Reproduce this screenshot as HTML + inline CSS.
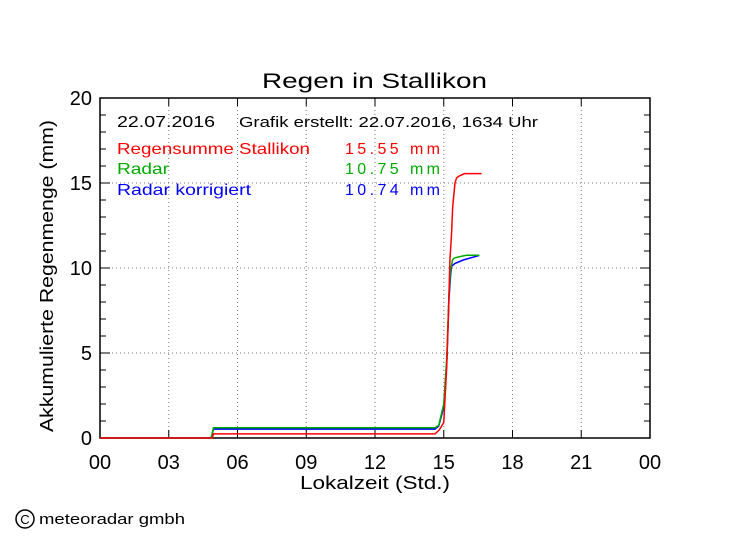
<!DOCTYPE html>
<html><head><meta charset="utf-8"><style>
body{margin:0;background:#fff}
svg text{font-family:"Liberation Sans",sans-serif}
</style></head><body>
<svg id="chart" width="749" height="539" xmlns="http://www.w3.org/2000/svg">
<rect width="749" height="539" fill="#fff"/>
<text x="262" y="88" font-size="21" textLength="225" lengthAdjust="spacingAndGlyphs">Regen in Stallikon</text>
<g id="grid"></g>
<g id="axes"></g>
<g id="series"></g>
<text x="117" y="127" font-size="16" textLength="98" lengthAdjust="spacingAndGlyphs">22.07.2016</text>
<text x="239" y="127" font-size="15" textLength="299" lengthAdjust="spacingAndGlyphs">Grafik erstellt: 22.07.2016, 1634 Uhr</text>
<g font-size="16">
<text x="117" y="154" fill="#f00" textLength="193" lengthAdjust="spacingAndGlyphs">Regensumme Stallikon</text>
<text x="345" y="154" fill="#f00" textLength="95" lengthAdjust="spacing">15.55  mm</text>
<text x="117" y="174" fill="#0a0" textLength="52" lengthAdjust="spacingAndGlyphs">Radar</text>
<text x="345" y="174" fill="#0a0" textLength="95" lengthAdjust="spacing">10.75  mm</text>
<text x="117" y="195" fill="#00f" textLength="134" lengthAdjust="spacingAndGlyphs">Radar korrigiert</text>
<text x="345" y="195" fill="#00f" textLength="95" lengthAdjust="spacing">10.74  mm</text>
</g>
<text x="300" y="489" font-size="18" textLength="150" lengthAdjust="spacingAndGlyphs">Lokalzeit (Std.)</text>
<text transform="translate(53,432) rotate(-90)" font-size="18" textLength="312" lengthAdjust="spacingAndGlyphs">Akkumulierte Regenmenge (mm)</text>
<circle cx="25" cy="519" r="9" fill="none" stroke="#000" stroke-width="1.5"/>
<text x="25" y="524" text-anchor="middle" font-size="13">C</text>
<text x="39" y="524" font-size="15" textLength="146" lengthAdjust="spacingAndGlyphs">meteoradar gmbh</text>
</svg>
<script>
const xTicks=["00","03","06","09","12","15","18","21","00"];
const yTicks=[0,5,10,15,20];
const stationX=[0,4.9,4.95,14.62,14.8,15.0,15.13,15.2,15.27,15.34,15.39,15.49,15.56,15.66,15.9,16.65];
const stationY=[0,0,0.24,0.24,0.47,0.9,4.2,7.1,10.5,12.0,13.6,15.0,15.3,15.4,15.55,15.55];
const radarX=[0,4.85,4.95,14.62,14.78,15.0,15.13,15.23,15.3,15.39,15.49,15.7,15.99,16.55];
const radarY=[0,0,0.6,0.6,0.75,2.0,4.7,8.5,9.9,10.5,10.6,10.67,10.75,10.75];
const corrX=[0,4.85,4.95,14.62,14.78,15.0,15.13,15.23,15.3,15.34,15.49,15.85,16.55];
const corrY=[0,0,0.52,0.52,0.7,1.8,4.4,8.2,9.6,10.1,10.27,10.47,10.74];
const L=100,R=650,T=98,B=438;
const xs=h=>L+h*(R-L)/24, ys=v=>B-v*(B-T)/20;
const NS="http://www.w3.org/2000/svg";
function mk(tag,parent){const e=document.createElementNS(NS,tag);document.getElementById(parent).appendChild(e);return e;}
for(let i=1;i<xTicks.length-1;i++){const l=mk('line','grid');


const x=xs(i*3);l.setAttribute('x1',x);l.setAttribute('x2',x);l.setAttribute('y1',T);l.setAttribute('y2',B);l.setAttribute('stroke','#777');l.setAttribute('stroke-dasharray','1,3');}
for(let i=1;i<yTicks.length-1;i++){const l=mk('line','grid');


const y=ys(yTicks[i]);l.setAttribute('x1',L);l.setAttribute('x2',R);l.setAttribute('y1',y);l.setAttribute('y2',y);l.setAttribute('stroke','#777');l.setAttribute('stroke-dasharray','1,3');}
const fr=mk('rect','axes');


fr.setAttribute('x',L);fr.setAttribute('y',T);fr.setAttribute('width',R-L);fr.setAttribute('height',B-T);fr.setAttribute('fill','none');fr.setAttribute('stroke','#000');fr.setAttribute('stroke-width','1.5');
for(let v=0;v<=20;v++){const l=mk('line','axes');


const y=ys(v),len=v%5==0?10:6;l.setAttribute('x1',L);l.setAttribute('x2',L+len);l.setAttribute('y1',y);l.setAttribute('y2',y);l.setAttribute('stroke','#000');
const l2=mk('line','axes');


l2.setAttribute('x1',R);l2.setAttribute('x2',R-len);l2.setAttribute('y1',y);l2.setAttribute('y2',y);l2.setAttribute('stroke','#000');}
yTicks.forEach(v=>{const t=mk('text','axes');


t.setAttribute('x',L-8);t.setAttribute('y',ys(v)+7);t.setAttribute('text-anchor','end');t.setAttribute('font-size','20');t.textContent=v;});
xTicks.forEach((s,i)=>{const x=xs(i*3);
const l=mk('line','axes');


l.setAttribute('x1',x);l.setAttribute('x2',x);l.setAttribute('y1',B);l.setAttribute('y2',B-8);l.setAttribute('stroke','#000');
const l2=mk('line','axes');


l2.setAttribute('x1',x);l2.setAttribute('x2',x);l2.setAttribute('y1',T);l2.setAttribute('y2',T+8);l2.setAttribute('stroke','#000');
const t=mk('text','axes');


t.setAttribute('x',x);t.setAttribute('y',469);t.setAttribute('text-anchor','middle');t.setAttribute('font-size','20');t.textContent=s;});
function series(X,Y,c,n){const p=mk('polyline','series');


p.setAttribute('points',X.map((x,i)=>xs(x)+','+ys(Y[i])).join(' '));p.setAttribute('fill','none');p.setAttribute('stroke',c);p.setAttribute('stroke-width','1.5');}
series(corrX,corrY,'#00f','radar-corrected-line');
series(radarX,radarY,'#0a0','radar-line');
series(stationX,stationY,'#f00','station-line');
</script>
</body></html>
